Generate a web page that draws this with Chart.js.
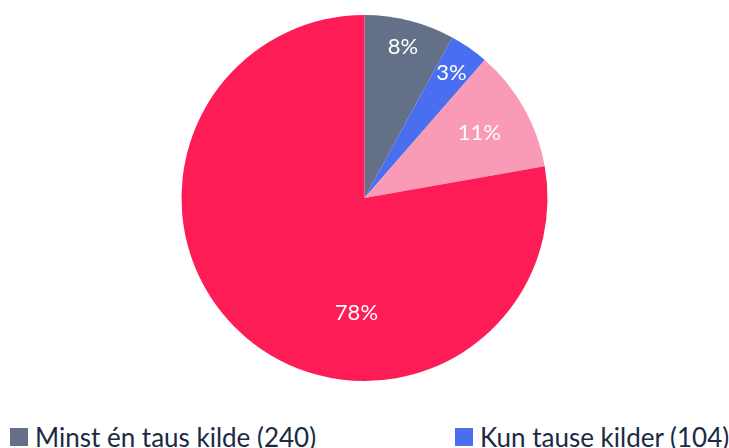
<!DOCTYPE html>
<html>
<head>
<meta charset="utf-8">
<script src="https://cdn.jsdelivr.net/npm/chart.js@4.4.1/dist/chart.umd.min.js"></script>
<style>
  html, body { margin: 0; padding: 0; background: #fff; overflow: hidden; }
  #wrap { width: 729px; height: 400px; position: relative; }
  #legend { display: grid; grid-template-columns: 445px 284px; row-gap: 6px;
            margin-top: 21px; padding-left: 10px; font-family: Lato, sans-serif;
            font-size: 26px; color: #1b2a44; }
  .item { display: flex; align-items: center; white-space: nowrap; }
  .box { width: 18px; height: 18px; margin-right: 7px; flex: none; }
</style>
</head>
<body>
<div id="wrap"><canvas id="chart"></canvas></div>
<div id="legend"></div>
<script>
// Data
const categories = ['Minst én taus kilde', 'Kun tause kilder', 'Andre kilder', 'Ingen tause kilder'];
const counts = [240, 104, 326, 2344];
const colors = ['#647088', '#4a6ef0', '#f99bb6', '#fe1c57'];

const total = counts.reduce((a, b) => a + b, 0);

// percent labels drawn on the slices
const sliceLabels = {
    id: 'sliceLabels',
    afterDatasetsDraw(chart) {
        const ctx = chart.ctx;
        const meta = chart.getDatasetMeta(0);
        ctx.save();
        ctx.fillStyle = '#ffffff';
        ctx.font = '22px Lato, sans-serif';
        ctx.textAlign = 'center';
        ctx.textBaseline = 'middle';
        meta.data.forEach((arc, i) => {
            const share = counts[i] / total;
            let angle = (arc.startAngle + arc.endAngle) / 2;
            let k = share < 0.05 ? 0.83 : (share < 0.1 ? 0.85 : 0.72);
            if (share > 0.5) { angle = Math.PI / 2 + 0.07; k = 0.63; }
            const x = arc.x + Math.cos(angle) * arc.outerRadius * k;
            const y = arc.y + Math.sin(angle) * arc.outerRadius * k;
            ctx.fillText(Math.round(share * 100) + '%', x, y);
        });
        ctx.restore();
    }
};

const ctx = document.getElementById('chart').getContext('2d');
new Chart(ctx, {
    type: 'pie',
    data: {
        labels: categories,
        datasets: [{
            data: counts,
            backgroundColor: colors,
            borderWidth: 0
        }]
    },
    options: {
        responsive: true,
        maintainAspectRatio: false,
        animation: false,
        layout: { padding: { top: 15, bottom: 19 } },
        plugins: {
            legend: { display: false },
            tooltip: { enabled: true }
        }
    },
    plugins: [sliceLabels]
});

// Legend
const legend = document.getElementById('legend');
categories.forEach((name, i) => {
    const item = document.createElement('div');
    item.className = 'item';
    item.innerHTML = '<span class="box" style="background:' + colors[i] + '"></span>' +
        name + ' (' + counts[i] + ')';
    legend.appendChild(item);
});
</script>
</body>
</html>
